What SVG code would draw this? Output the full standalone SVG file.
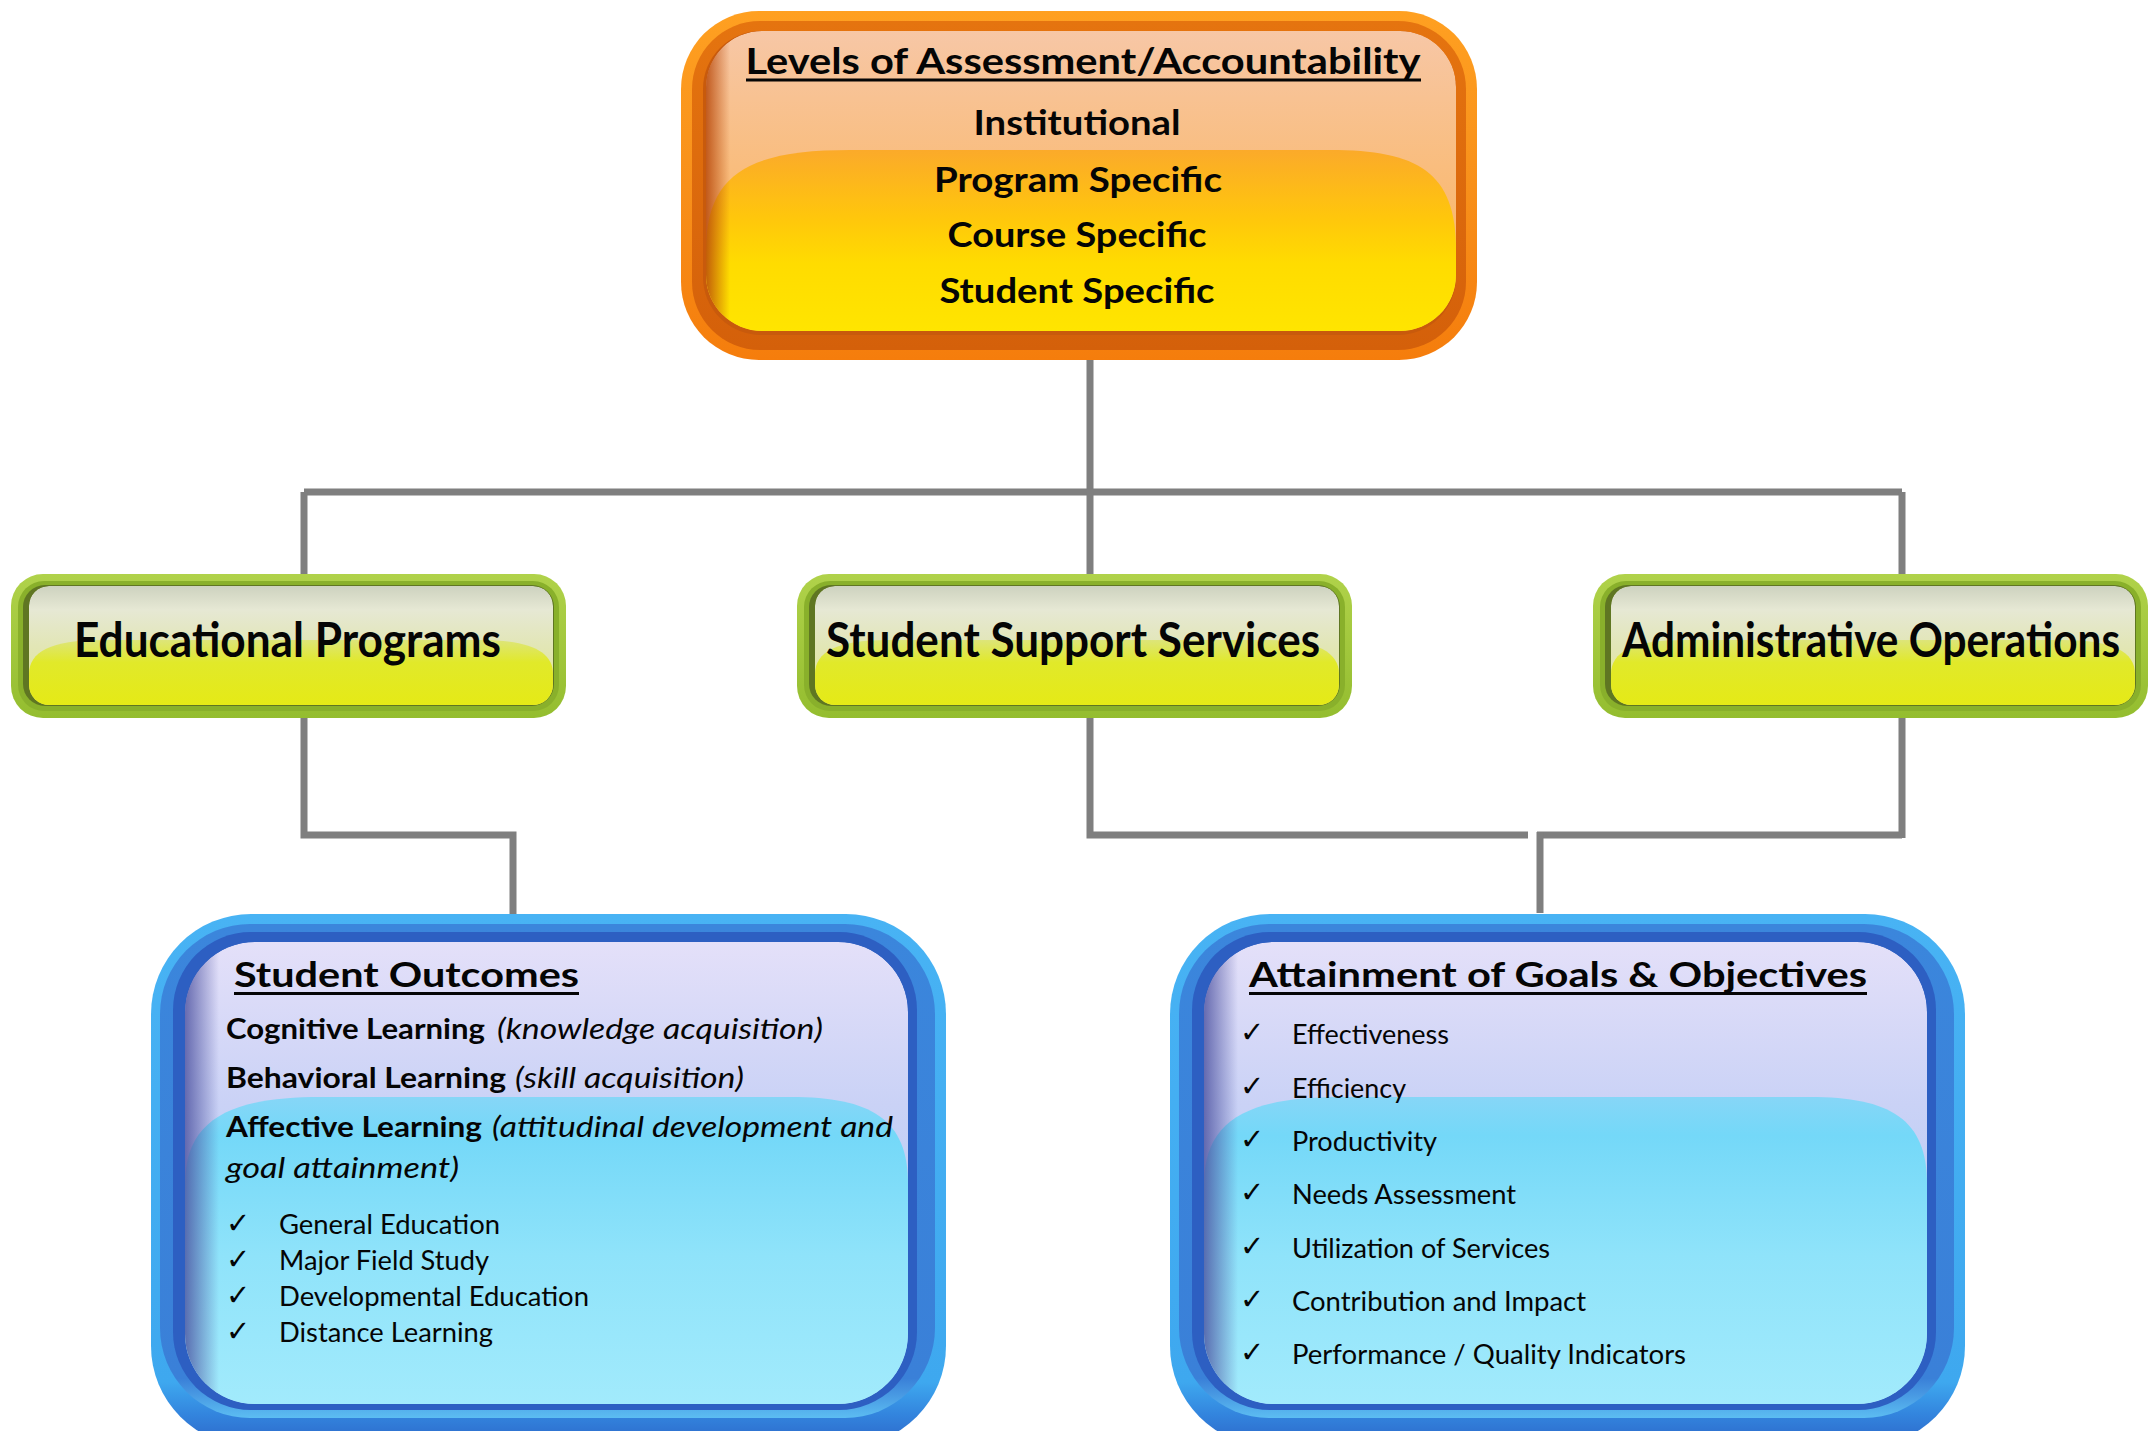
<svg xmlns="http://www.w3.org/2000/svg" xmlns:xlink="http://www.w3.org/1999/xlink" width="2156" height="1431" viewBox="0 0 2156 1431">
  <style>
    .txt { font-family: Lato, "Open Sans", "Liberation Sans", sans-serif; fill: #050505; }
    .bold { font-weight: 700; }
    .ital { font-style: italic; font-weight: 400; }
    .reg { font-weight: 400; }
    .chk { font-family: "DejaVu Sans", sans-serif; fill: #050505; font-size: 29px; }
    .conn { fill: none; stroke: #7f7f7f; stroke-width: 7; }
    .uline { fill: #050505; }
  </style>
  <defs>
    <!-- orange header box -->
    <linearGradient id="gOrangeOuter" x1="0" y1="0" x2="0" y2="1">
      <stop offset="0" stop-color="#ffa021"/>
      <stop offset="0.5" stop-color="#f8901a"/>
      <stop offset="1" stop-color="#f57d0c"/>
    </linearGradient>
    <linearGradient id="gOrangeRing" x1="0" y1="0" x2="0" y2="1">
      <stop offset="0" stop-color="#e5740f"/>
      <stop offset="1" stop-color="#d4600a"/>
    </linearGradient>
    <linearGradient id="gOrangeTop" x1="0" y1="0" x2="0" y2="1">
      <stop offset="0" stop-color="#f7c7a6"/>
      <stop offset="0.45" stop-color="#f9bd7e"/>
      <stop offset="1" stop-color="#fab05a"/>
    </linearGradient>
    <linearGradient id="gOrangeLow" x1="0" y1="0" x2="0" y2="1">
      <stop offset="0" stop-color="#fbaa2a"/>
      <stop offset="0.35" stop-color="#ffc60c"/>
      <stop offset="0.6" stop-color="#ffdc00"/>
      <stop offset="1" stop-color="#ffe600"/>
    </linearGradient>
    <linearGradient id="gOrangeEdge" x1="0" y1="0" x2="1" y2="0">
      <stop offset="0" stop-color="#b8480a" stop-opacity="0.85"/>
      <stop offset="1" stop-color="#b8480a" stop-opacity="0"/>
    </linearGradient>
    <clipPath id="clipOrange">
      <rect x="706" y="31" width="750" height="300" rx="56"/>
    </clipPath>

    <!-- green category box -->
    <linearGradient id="gGreenOuter" x1="0" y1="0" x2="0" y2="1">
      <stop offset="0" stop-color="#b0d24a"/>
      <stop offset="1" stop-color="#94bd2f"/>
    </linearGradient>
    <linearGradient id="gGreenTop" x1="0" y1="0" x2="0" y2="1">
      <stop offset="0" stop-color="#cdd2bf"/>
      <stop offset="0.2" stop-color="#e6e8d4"/>
      <stop offset="0.5" stop-color="#e2e6b6"/>
      <stop offset="1" stop-color="#dfe590"/>
    </linearGradient>
    <linearGradient id="gGreenLow" x1="0" y1="0" x2="0" y2="1">
      <stop offset="0" stop-color="#dde579"/>
      <stop offset="0.3" stop-color="#e1e92a"/>
      <stop offset="1" stop-color="#e6ea12"/>
    </linearGradient>
    <clipPath id="clipGreen">
      <rect x="18" y="12" width="524" height="119" rx="20"/>
    </clipPath>
    <g id="greenBox">
      <rect x="0" y="0" width="555" height="144" rx="32" fill="url(#gGreenOuter)"/>
      <rect x="7" y="7" width="541" height="130" rx="26" fill="#89b02b"/>
      <rect x="12" y="11" width="531" height="121" rx="22" fill="#5f7622"/>
      <g clip-path="url(#clipGreen)">
        <rect x="18" y="12" width="524" height="119" rx="20" fill="url(#gGreenTop)"/>
        <path d="M18,100 C18,78 40,66 90,66 H470 C520,66 542,78 542,100 V140 H18 Z" fill="url(#gGreenLow)"/>
      </g>
    </g>

    <!-- blue detail box -->
    <linearGradient id="gBlueOuter" x1="0" y1="0" x2="0" y2="1">
      <stop offset="0" stop-color="#48b3f4"/>
      <stop offset="0.88" stop-color="#3ea8ef"/>
      <stop offset="0.94" stop-color="#3385de"/>
      <stop offset="1" stop-color="#2c66c8"/>
    </linearGradient>
    <linearGradient id="gBlueRing" x1="0" y1="0" x2="0" y2="1">
      <stop offset="0" stop-color="#3b86dc"/>
      <stop offset="0.92" stop-color="#3a80d8"/>
      <stop offset="1" stop-color="#5cbdf2"/>
    </linearGradient>
    <linearGradient id="gBlueTop" x1="0" y1="0" x2="0" y2="1">
      <stop offset="0" stop-color="#e4e0f9"/>
      <stop offset="0.35" stop-color="#cad2f6"/>
      <stop offset="0.7" stop-color="#b6cbf4"/>
      <stop offset="1" stop-color="#afc8f3"/>
    </linearGradient>
    <linearGradient id="gBlueLow" x1="0" y1="0" x2="0" y2="1">
      <stop offset="0" stop-color="#86d6f7"/>
      <stop offset="0.12" stop-color="#74d8f8"/>
      <stop offset="0.5" stop-color="#8fe3fa"/>
      <stop offset="1" stop-color="#a3ebfc"/>
    </linearGradient>
    <linearGradient id="gBlueEdge" x1="0" y1="0" x2="1" y2="0">
      <stop offset="0" stop-color="#4a4f9e" stop-opacity="0.8"/>
      <stop offset="1" stop-color="#4a4f9e" stop-opacity="0"/>
    </linearGradient>
    <clipPath id="clipBlue">
      <rect x="34" y="28" width="723" height="462" rx="70"/>
    </clipPath>
    <g id="blueBox">
      <rect x="0" y="0" width="795" height="532" rx="100" fill="url(#gBlueOuter)"/>
      <rect x="9" y="10" width="775" height="494" rx="90" fill="url(#gBlueRing)"/>
      <rect x="22" y="18" width="744" height="478" rx="78" fill="#2d5fc2"/>
      <g clip-path="url(#clipBlue)">
        <rect x="34" y="28" width="723" height="462" rx="70" fill="url(#gBlueTop)"/>
        <path d="M34,270 C34,205 80,183 170,183 H640 C720,183 757,205 757,270 V500 H34 Z" fill="url(#gBlueLow)"/>
        <rect x="34" y="28" width="34" height="462" fill="url(#gBlueEdge)"/>
      </g>
    </g>
  </defs>

  <rect width="2156" height="1431" fill="#ffffff"/>

  <!-- connectors -->
  <g id="connectors">
    <path class="conn" d="M1090,360 V492"/>
    <path class="conn" d="M304,492 H1902"/>
    <path class="conn" d="M304,492 V575"/>
    <path class="conn" d="M1090,492 V575"/>
    <path class="conn" d="M1902,492 V575"/>
    <path class="conn" d="M304,718 V835 H513 V914"/>
    <path class="conn" d="M1090,718 V835 H1528"/>
    <path class="conn" d="M1537,835 H1902 M1902,718 V838"/>
    <path class="conn" d="M1540,832 V913"/>
  </g>

  <!-- header: levels of assessment -->
  <g id="node-levels">
    <rect x="681" y="11" width="796" height="349" rx="78" fill="url(#gOrangeOuter)"/>
    <rect x="692" y="21" width="774" height="329" rx="68" fill="url(#gOrangeRing)"/>
    <rect x="703" y="31" width="753" height="304" rx="58" fill="#c85a0c"/>
    <g clip-path="url(#clipOrange)">
      <rect x="706" y="31" width="750" height="300" rx="56" fill="url(#gOrangeTop)"/>
      <path d="M706,250 C706,172 752,150 850,150 H1330 C1418,150 1456,172 1456,250 V340 H706 Z" fill="url(#gOrangeLow)"/>
      <rect x="706" y="31" width="24" height="300" fill="url(#gOrangeEdge)"/>
    </g>
    <text class="txt bold" x="1083" y="74" font-size="36" text-anchor="middle" textLength="675" lengthAdjust="spacingAndGlyphs">Levels of Assessment/Accountability</text>
    <rect class="uline" x="746" y="78.5" width="675" height="3"/>
    <text class="txt bold" x="1077" y="135" font-size="35" text-anchor="middle" textLength="207" lengthAdjust="spacingAndGlyphs">Institutional</text>
    <text class="txt bold" x="1078" y="192" font-size="35" text-anchor="middle" textLength="288" lengthAdjust="spacingAndGlyphs">Program Specific</text>
    <text class="txt bold" x="1077" y="247" font-size="35" text-anchor="middle" textLength="259" lengthAdjust="spacingAndGlyphs">Course Specific</text>
    <text class="txt bold" x="1077" y="303" font-size="35" text-anchor="middle" textLength="275" lengthAdjust="spacingAndGlyphs">Student Specific</text>
  </g>

  <!-- category boxes -->
  <g id="node-educational">
    <use xlink:href="#greenBox" href="#greenBox" x="11" y="574"/>
    <text class="txt bold" x="74" y="657" font-size="48" textLength="427" lengthAdjust="spacingAndGlyphs">Educational Programs</text>
  </g>
  <g id="node-support">
    <use xlink:href="#greenBox" href="#greenBox" x="797" y="574"/>
    <text class="txt bold" x="826" y="657" font-size="48" textLength="494" lengthAdjust="spacingAndGlyphs">Student Support Services</text>
  </g>
  <g id="node-administrative">
    <use xlink:href="#greenBox" href="#greenBox" x="1593" y="574"/>
    <text class="txt bold" x="1871" y="657" font-size="47" text-anchor="middle" textLength="498" lengthAdjust="spacingAndGlyphs">Administrative Operations</text>
  </g>

  <!-- student outcomes -->
  <g id="node-outcomes">
    <use xlink:href="#blueBox" href="#blueBox" x="151" y="914"/>
    <text class="txt bold" x="234" y="987" font-size="35" textLength="345" lengthAdjust="spacingAndGlyphs">Student Outcomes</text>
    <rect class="uline" x="234" y="992" width="345" height="3"/>
    <text class="txt bold" x="226" y="1039" font-size="28" textLength="259" lengthAdjust="spacingAndGlyphs">Cognitive Learning</text>
    <text class="txt ital" x="497" y="1039" font-size="28" textLength="326" lengthAdjust="spacingAndGlyphs">(knowledge acquisition)</text>
    <text class="txt bold" x="226" y="1088" font-size="28" textLength="280" lengthAdjust="spacingAndGlyphs">Behavioral Learning</text>
    <text class="txt ital" x="515" y="1088" font-size="28" textLength="229" lengthAdjust="spacingAndGlyphs">(skill acquisition)</text>
    <text class="txt bold" x="226" y="1137" font-size="28" textLength="256" lengthAdjust="spacingAndGlyphs">Affective Learning</text>
    <text class="txt ital" x="492" y="1137" font-size="28" textLength="401" lengthAdjust="spacingAndGlyphs">(attitudinal development and</text>
    <text class="txt ital" x="226" y="1178" font-size="28" textLength="233" lengthAdjust="spacingAndGlyphs">goal attainment)</text>
    <text class="chk" x="226" y="1233">✓</text>
    <text class="txt reg" x="279" y="1234" font-size="26" textLength="221" lengthAdjust="spacingAndGlyphs">General Education</text>
    <text class="chk" x="226" y="1269">✓</text>
    <text class="txt reg" x="279" y="1270" font-size="26" textLength="210" lengthAdjust="spacingAndGlyphs">Major Field Study</text>
    <text class="chk" x="226" y="1305">✓</text>
    <text class="txt reg" x="279" y="1306" font-size="26" textLength="310" lengthAdjust="spacingAndGlyphs">Developmental Education</text>
    <text class="chk" x="226" y="1341">✓</text>
    <text class="txt reg" x="279" y="1342" font-size="26" textLength="214" lengthAdjust="spacingAndGlyphs">Distance Learning</text>
  </g>

  <!-- goals and objectives -->
  <g id="node-attainment">
    <use xlink:href="#blueBox" href="#blueBox" x="1170" y="914"/>
    <text class="txt bold" x="1249" y="987" font-size="35" textLength="618" lengthAdjust="spacingAndGlyphs">Attainment of Goals &amp; Objectives</text>
    <rect class="uline" x="1249" y="992" width="618" height="3"/>
    <text class="chk" x="1240" y="1042">✓</text>
    <text class="txt reg" x="1292" y="1044" font-size="26" textLength="157" lengthAdjust="spacingAndGlyphs">Effectiveness</text>
    <text class="chk" x="1240" y="1096">✓</text>
    <text class="txt reg" x="1292" y="1098" font-size="26" textLength="114" lengthAdjust="spacingAndGlyphs">Efficiency</text>
    <text class="chk" x="1240" y="1149">✓</text>
    <text class="txt reg" x="1292" y="1151" font-size="26" textLength="145" lengthAdjust="spacingAndGlyphs">Productivity</text>
    <text class="chk" x="1240" y="1202">✓</text>
    <text class="txt reg" x="1292" y="1204" font-size="26" textLength="224" lengthAdjust="spacingAndGlyphs">Needs Assessment</text>
    <text class="chk" x="1240" y="1256">✓</text>
    <text class="txt reg" x="1292" y="1258" font-size="26" textLength="258" lengthAdjust="spacingAndGlyphs">Utilization of Services</text>
    <text class="chk" x="1240" y="1309">✓</text>
    <text class="txt reg" x="1292" y="1311" font-size="26" textLength="294" lengthAdjust="spacingAndGlyphs">Contribution and Impact</text>
    <text class="chk" x="1240" y="1362">✓</text>
    <text class="txt reg" x="1292" y="1364" font-size="26" textLength="394" lengthAdjust="spacingAndGlyphs">Performance / Quality Indicators</text>
  </g>
</svg>
